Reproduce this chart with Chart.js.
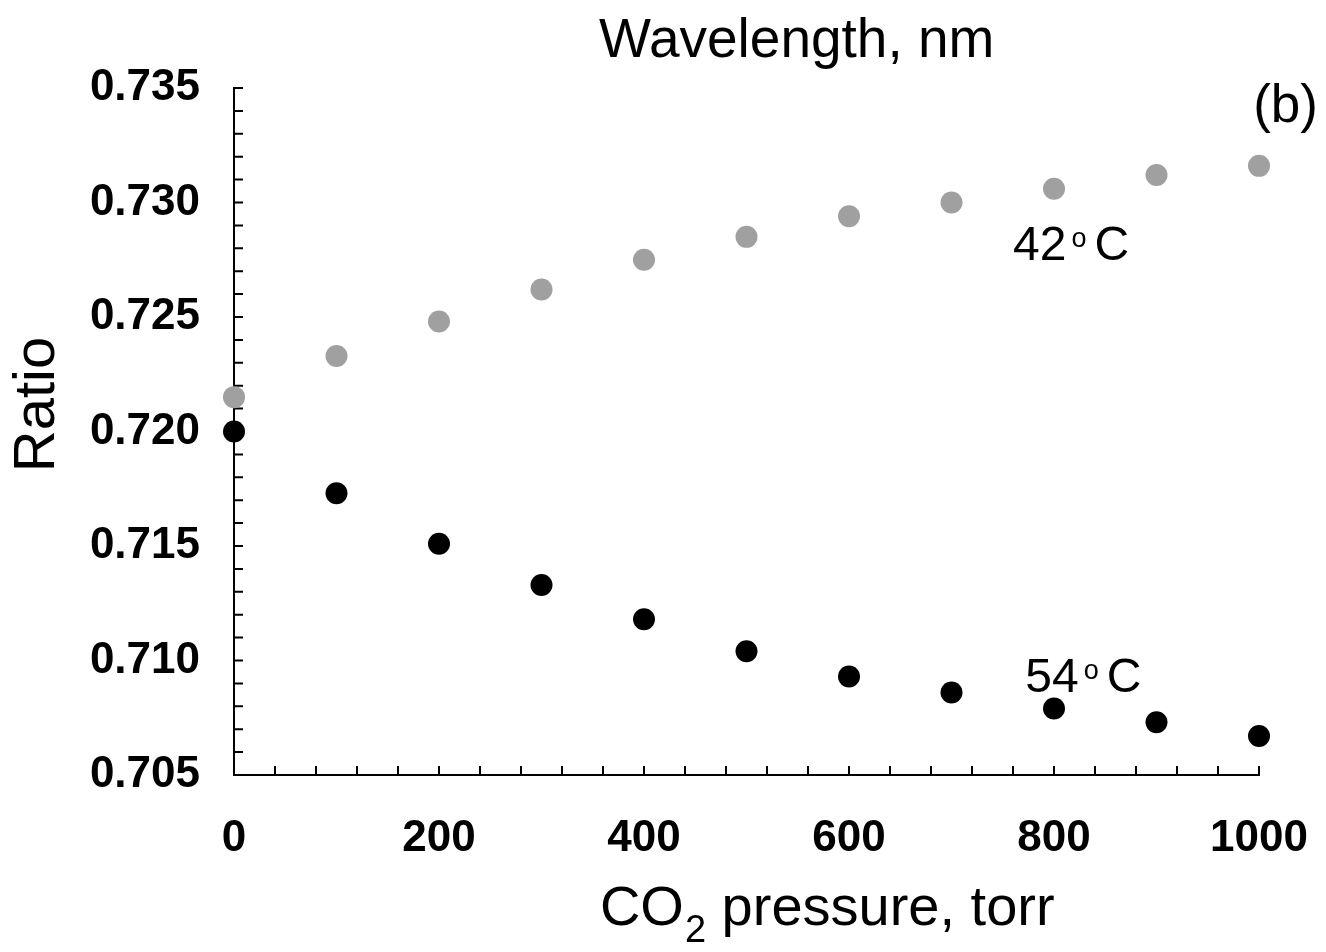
<!DOCTYPE html>
<html>
<head>
<meta charset="utf-8">
<script src="https://cdn.jsdelivr.net/npm/chart.js@4.4.0/dist/chart.umd.min.js"></script>
<style>
  html, body { margin: 0; padding: 0; background: #fff; }
</style>
</head>
<body>
<canvas id="myChart" width="1326" height="952"></canvas>
<script>
// CO2 pressure (torr)
const pressure = [0, 100, 200, 300, 400, 500, 600, 700, 800, 900, 1000];
// ratio at 42 C (grey dots)
const ratio42 = [0.7215, 0.7233, 0.7248, 0.7262, 0.7275, 0.7285, 0.7294, 0.7300, 0.7306, 0.7312, 0.7316];
// ratio at 54 C (black dots)
const ratio54 = [0.7200, 0.7173, 0.7151, 0.7133, 0.7118, 0.7104, 0.7093, 0.7086, 0.7079, 0.7073, 0.7067];

const xMin = 0, xMax = 1000, xMinor = 40, xMajor = 200;
const yMin = 0.705, yMax = 0.735, yMinor = 0.001, yMajor = 0.005;

const tickFont = { family: '"Liberation Sans", Arial, sans-serif', size: 44, weight: 'bold' };
const textFamily = '"Liberation Sans", Arial, sans-serif';

function toPoints(ys) {
  return pressure.map((p, i) => ({ x: p, y: ys[i] }));
}

// small tick marks pointing into the plot, like the original
const innerTicks = {
  id: 'innerTicks',
  beforeDatasetsDraw(chart) {
    const ctx = chart.ctx;
    const xs = chart.scales.x;
    const ys = chart.scales.y;
    const len = 9;
    ctx.save();
    ctx.strokeStyle = '#000';
    ctx.lineWidth = 2;
    ctx.beginPath();
    xs.ticks.forEach(t => {
      const px = xs.getPixelForValue(t.value);
      ctx.moveTo(px, ys.bottom);
      ctx.lineTo(px, ys.bottom - len);
    });
    ys.ticks.forEach(t => {
      const py = ys.getPixelForValue(t.value);
      ctx.moveTo(xs.left, py);
      ctx.lineTo(xs.left + len, py);
    });
    ctx.stroke();
    ctx.restore();
  }
};

function degreeLabel(ctx, num, x0, base) {
  ctx.font = '48px ' + textFamily;
  ctx.fillText(num, x0, base);
  let x = x0 + ctx.measureText(num).width + 5;
  ctx.font = '27px ' + textFamily;
  ctx.fillText('o', x, base - 13);
  x += ctx.measureText('o').width + 8;
  ctx.font = '48px ' + textFamily;
  ctx.fillText('C', x, base);
}

const labels = {
  id: 'labels',
  afterDraw(chart) {
    const ctx = chart.ctx;
    const xs = chart.scales.x;
    const ys = chart.scales.y;
    ctx.save();
    ctx.fillStyle = '#000';
    ctx.textBaseline = 'alphabetic';

    // top title
    ctx.textAlign = 'center';
    ctx.font = '55px ' + textFamily;
    ctx.fillText('Wavelength, nm', xs.getPixelForValue(549), chart.chartArea.top - 31);

    // panel letter
    ctx.textAlign = 'right';
    ctx.font = '53px ' + textFamily;
    ctx.fillText('(b)', chart.chartArea.right + 59, chart.chartArea.top + 34);

    // series labels
    ctx.textAlign = 'left';
    degreeLabel(ctx, '42', xs.getPixelForValue(760), ys.getPixelForValue(0.72749));
    degreeLabel(ctx, '54', xs.getPixelForValue(772), ys.getPixelForValue(0.70862));

    // x title with subscript
    let x = xs.getPixelForValue(357);
    const base = chart.chartArea.bottom + 150;
    ctx.font = '56px ' + textFamily;
    ctx.fillText('CO', x, base);
    x += ctx.measureText('CO').width + 1;
    ctx.font = '38px ' + textFamily;
    ctx.fillText('2', x, base + 17);
    x += ctx.measureText('2').width;
    ctx.font = '56px ' + textFamily;
    ctx.fillText(' pressure, torr', x, base);

    // y title
    ctx.translate(38, (chart.chartArea.top + chart.chartArea.bottom) / 2 - 27);
    ctx.rotate(-Math.PI / 2);
    ctx.textAlign = 'center';
    ctx.textBaseline = 'middle';
    ctx.font = '58px ' + textFamily;
    ctx.fillText('Ratio', 0, 0);
    ctx.restore();
  }
};

const data = {
  datasets: [
    {
      label: '42 C',
      data: toPoints(ratio42),
      backgroundColor: 'rgb(160, 160, 160)',
      borderColor: 'rgb(160, 160, 160)',
      pointRadius: 11,
      pointBorderWidth: 0,
      showLine: false,
      clip: false
    },
    {
      label: '54 C',
      data: toPoints(ratio54),
      backgroundColor: 'rgb(0, 0, 0)',
      borderColor: 'rgb(0, 0, 0)',
      pointRadius: 11,
      pointBorderWidth: 0,
      showLine: false,
      clip: false
    }
  ]
};

const config = {
  type: 'scatter',
  data: data,
  options: {
    responsive: false,
    animation: false,
    devicePixelRatio: 1,
    layout: { padding: { top: 88, right: 67, left: 0, bottom: 0 } },
    plugins: {
      legend: { display: false },
      tooltip: { enabled: false }
    },
    scales: {
      x: {
        type: 'linear',
        min: xMin,
        max: xMax,
        afterFit: (s) => { s.height = 177; s.paddingLeft = 0; s.paddingRight = 0; },
        grid: { display: false, drawTicks: false },
        border: { display: true, color: '#000', width: 2 },
        ticks: {
          stepSize: xMinor,
          autoSkip: false,
          maxRotation: 0,
          padding: 37,
          color: '#000',
          font: tickFont,
          callback: (v) => (Math.round(v) % xMajor === 0 ? String(Math.round(v)) : '')
        }
      },
      y: {
        type: 'linear',
        min: yMin,
        max: yMax,
        afterFit: (s) => { s.width = 234; s.paddingTop = 0; s.paddingBottom = 0; },
        grid: { display: false, drawTicks: false },
        border: { display: true, color: '#000', width: 2 },
        ticks: {
          stepSize: yMinor,
          autoSkip: false,
          padding: 34,
          color: '#000',
          font: tickFont,
          callback: (v) => (Math.round(v * 1000) % Math.round(yMajor * 1000) === 0 ? v.toFixed(3) : '')
        }
      }
    }
  },
  plugins: [innerTicks, labels]
};

const myChart = new Chart(document.getElementById('myChart'), config);
</script>
</body>
</html>
